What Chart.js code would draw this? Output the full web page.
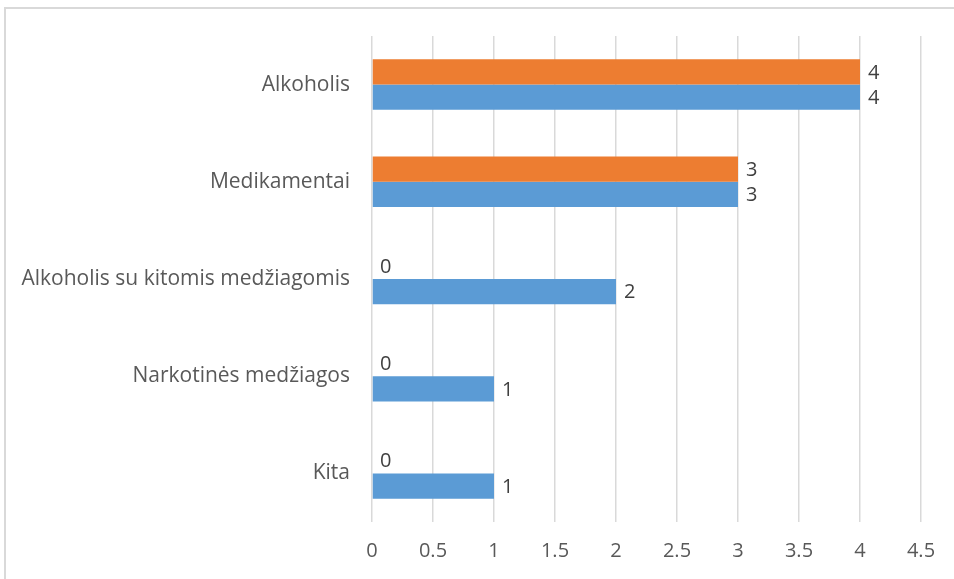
<!DOCTYPE html>
<html>
<head>
<meta charset="utf-8">
<script src="https://cdn.jsdelivr.net/npm/chart.js@4"></script>
<style>
  html, body { margin: 0; padding: 0; background: #fff; }
  #wrap { position: absolute; left: 0; top: 0; width: 954px; height: 579px; }
  #frame { position: absolute; left: 4px; top: 7px; width: 960px; height: 600px;
           border-left: 2px solid #d9d9d9; border-top: 2px solid #d9d9d9; }
</style>
</head>
<body>
<div id="wrap">
  <div id="frame"></div>
  <canvas id="chart" width="954" height="579"></canvas>
</div>
<script>
// kategorijos ir reikšmės
const categories = ["Alkoholis", "Medikamentai", "Alkoholis su kitomis medžiagomis", "Narkotinės medžiagos", "Kita"];
const orangeValues = [4, 3, 0, 0, 0];
const blueValues = [4, 3, 2, 1, 1];
const xTicks = [0, 0.5, 1, 1.5, 2, 2.5, 3, 3.5, 4, 4.5];

const FONT = "Open Sans";

// reikšmės prie stulpelių galų
const valueLabels = {
  id: 'valueLabels',
  afterDatasetsDraw(chart) {
    const ctx = chart.ctx;
    ctx.save();
    ctx.font = "20px " + FONT;
    ctx.fillStyle = "#404040";
    ctx.textBaseline = "middle";
    ctx.textAlign = "left";
    chart.data.datasets.forEach((ds, i) => {
      chart.getDatasetMeta(i).data.forEach((bar, j) => {
        ctx.fillText(String(ds.data[j]), bar.x + 8, bar.y + 1);
      });
    });
    ctx.restore();
  }
};

new Chart(document.getElementById('chart').getContext('2d'), {
  type: 'bar',
  data: {
    labels: categories,
    datasets: [
      { label: 'a', data: orangeValues, backgroundColor: '#ED7D31', categoryPercentage: 0.52, barPercentage: 1 },
      { label: 'b', data: blueValues, backgroundColor: '#5B9BD5', categoryPercentage: 0.52, barPercentage: 1 }
    ]
  },
  options: {
    indexAxis: 'y',
    responsive: false,
    animation: false,
    layout: { padding: { top: 36, right: 33, left: 0, bottom: 0 } },
    plugins: {
      legend: { display: false },
      tooltip: { enabled: false }
    },
    scales: {
      x: {
        min: 0,
        max: 4.5,
        afterBuildTicks: (scale) => { scale.ticks = xTicks.map(v => ({ value: v })); },
        afterFit: (scale) => { scale.height = 57; },
        grid: { color: '#d9d9d9', lineWidth: 1.5, drawTicks: false },
        border: { display: false },
        ticks: {
          color: '#595959', font: { family: FONT, size: 20 }, padding: 17,
          callback: (v) => String(v)
        }
      },
      y: {
        afterFit: (scale) => { scale.width = 372; },
        grid: { display: false, drawTicks: false },
        border: { display: false },
        ticks: { color: '#595959', font: { family: FONT, size: 21 }, padding: 22 }
      }
    }
  },
  plugins: [valueLabels]
});
</script>
</body>
</html>
